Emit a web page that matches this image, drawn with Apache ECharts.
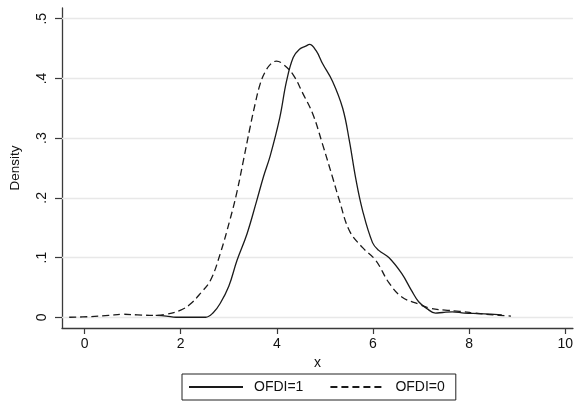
<!DOCTYPE html>
<html>
<head>
<meta charset="utf-8">
<script src="https://cdn.jsdelivr.net/npm/echarts@6/dist/echarts.min.js"></script>
<style>
  html, body { margin: 0; padding: 0; background: #fff; }
  #chart { width: 576px; height: 407px; }
</style>
</head>
<body>
<div id="chart"></div>
<script>
  // kernel density, OFDI=1 (solid)
  const xOfdi1 = [1.48, 1.7, 1.9, 2.2, 2.52, 2.68, 2.82, 3.0, 3.17, 3.38, 3.58, 3.72, 3.86, 4.06,
    4.2, 4.34, 4.47, 4.6, 4.68, 4.82, 4.95, 5.16, 5.37, 5.51, 5.64, 5.78, 5.99, 6.12, 6.33,
    6.6, 6.8, 6.95, 7.13, 7.3, 7.45, 7.65, 7.9, 8.2, 8.45, 8.68];
  const yOfdi1 = [0.003, 0.002, 0.0, 0.0, 0.0, 0.008, 0.023, 0.052, 0.095, 0.14, 0.195, 0.235, 0.27, 0.334,
    0.395, 0.435, 0.449, 0.454, 0.457, 0.446, 0.425, 0.395, 0.35, 0.295, 0.233, 0.18, 0.125, 0.112, 0.10,
    0.073, 0.045, 0.026, 0.014, 0.007, 0.008, 0.009, 0.007, 0.006, 0.005, 0.004];

  // kernel density, OFDI=0 (dashed)
  const xOfdi0 = [-0.32, 0.1, 0.5, 0.8, 1.1, 1.46, 1.7, 2.0, 2.2, 2.41, 2.62, 2.82, 3.03, 3.17, 3.31,
    3.44, 3.55, 3.65, 3.75, 3.87, 3.99, 4.13, 4.34, 4.54, 4.75, 4.95, 5.16, 5.3, 5.51, 5.78, 6.06, 6.33,
    6.6, 6.95, 7.2, 7.5, 7.8, 8.1, 8.5, 8.87];
  const yOfdi0 = [0.0, 0.001, 0.003, 0.005, 0.004, 0.003, 0.005, 0.012, 0.022, 0.04, 0.062, 0.106, 0.165, 0.21, 0.265,
    0.317, 0.358, 0.39, 0.41, 0.424, 0.429, 0.424, 0.406, 0.375, 0.34, 0.29, 0.234, 0.196, 0.145, 0.117, 0.095, 0.058,
    0.034, 0.022, 0.015, 0.012, 0.010, 0.007, 0.004, 0.002];

  const xTicks = [0, 2, 4, 6, 8, 10];
  const yTicks = [0, 0.1, 0.2, 0.3, 0.4, 0.5];
  const yTickLabels = ['0', '.1', '.2', '.3', '.4', '.5'];

  const pair = (xs, ys) => xs.map((x, i) => [x, ys[i]]);

  const font = 'Liberation Sans, Arial, Helvetica, sans-serif';
  const axisColor = '#3a3a3a';

  const chart = echarts.init(document.getElementById('chart'));
  chart.setOption({
    animation: false,
    backgroundColor: '#ffffff',
    textStyle: { fontFamily: font, color: '#111' },
    grid: { left: 60, right: 0, top: 8, bottom: 79 },
    xAxis: {
      type: 'value',
      min: -0.47,
      max: 10.16,
      name: 'x',
      nameLocation: 'middle',
      nameGap: 25,
      nameTextStyle: { fontFamily: font, fontSize: 14, color: '#111' },
      axisLine: { show: true, onZero: false, lineStyle: { color: axisColor, width: 1.3 } },
      axisTick: { show: true, length: 6, customValues: xTicks, lineStyle: { color: axisColor, width: 1.2 } },
      axisLabel: { customValues: xTicks, margin: 9, fontSize: 14, color: '#111', fontFamily: font },
      splitLine: { show: false }
    },
    yAxis: {
      type: 'value',
      min: -0.018,
      max: 0.518,
      name: 'Density',
      nameLocation: 'middle',
      nameRotate: 90,
      nameGap: 40,
      nameTextStyle: { fontFamily: font, fontSize: 13.5, color: '#111' },
      axisLine: { show: true, onZero: false, lineStyle: { color: axisColor, width: 1.3 } },
      axisTick: { show: true, length: 7, customValues: yTicks, lineStyle: { color: axisColor, width: 1.2 } },
      axisLabel: {
        customValues: yTicks,
        rotate: 90,
        margin: 13,
        fontSize: 14,
        color: '#111',
        fontFamily: font,
        formatter: (v) => yTickLabels[yTicks.findIndex(t => Math.abs(t - v) < 1e-9)]
      },
      splitLine: { show: false }
    },
    legend: {
      left: 182,
      top: 374,
      width: 262,
      padding: [6, 11, 6, 6],
      borderColor: '#222',
      borderWidth: 1,
      itemWidth: 54,
      itemHeight: 14,
      itemGap: 26,
      itemStyle: { opacity: 0 },
      textStyle: { fontFamily: font, fontSize: 14, color: '#111', padding: [0, 0, 0, 6] },
      data: ['OFDI=1', 'OFDI=0']
    },
    series: [
      {
        name: 'OFDI=1',
        type: 'line',
        data: pair(xOfdi1, yOfdi1),
        smooth: 0.4,
        symbol: 'none',
        z: 3,
        lineStyle: { color: '#1a1a1a', width: 1.3 },
        itemStyle: { color: '#1a1a1a' },
        markLine: {
          silent: true,
          z: 1,
          symbol: ['none', 'none'],
          label: { show: false },
          lineStyle: { color: '#e8e8e8', type: 'solid', width: 1.3 },
          data: yTicks.map(v => ({ yAxis: v }))
        }
      },
      {
        name: 'OFDI=0',
        type: 'line',
        data: pair(xOfdi0, yOfdi0),
        smooth: 0.4,
        symbol: 'none',
        z: 3,
        lineStyle: { color: '#1a1a1a', width: 1.3, type: [7, 4] },
        itemStyle: { color: '#1a1a1a' }
      }
    ]
  });
</script>
</body>
</html>
